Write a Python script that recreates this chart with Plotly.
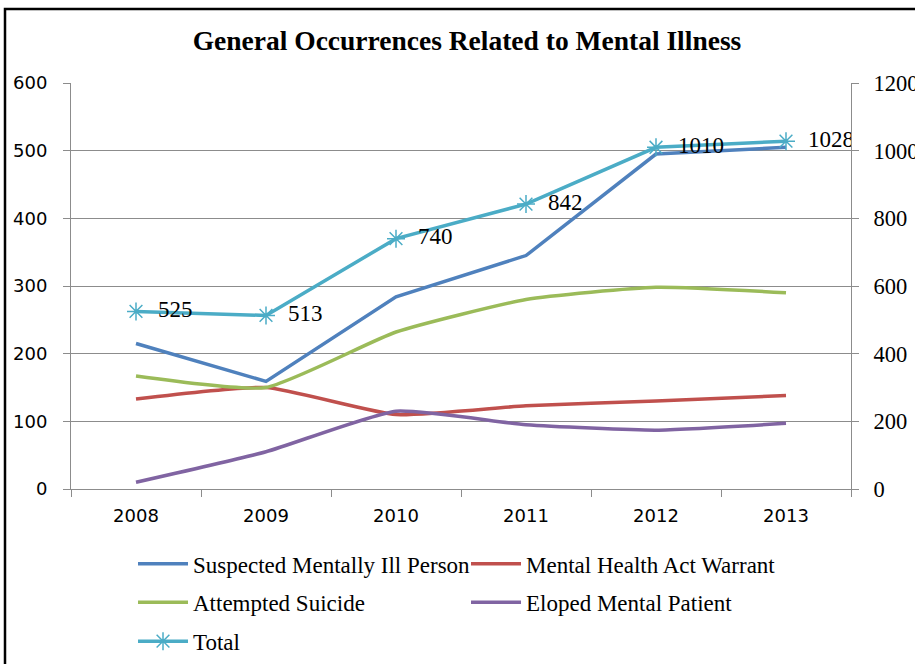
import plotly.graph_objects as go

years = ["2008", "2009", "2010", "2011", "2012", "2013"]
suspected = [215, 159, 284, 345, 495, 505]
warrant = [133, 150, 110, 123, 130, 138]
suicide = [167, 150, 232, 280, 298, 290]
eloped = [10, 55, 115, 95, 87, 97]
total = [525, 513, 740, 842, 1010, 1028]
left_ticks = [0, 100, 200, 300, 400, 500, 600]
right_ticks = [0, 200, 400, 600, 800, 1000, 1200]

SERIF = "Liberation Serif, Times New Roman, serif"
SANS = "DejaVu Sans, Verdana, sans-serif"
GRID = "#8c8c8c"

fig = go.Figure()
fig.add_trace(go.Scatter(x=years, y=suspected, name="Suspected Mentally Ill Person",
                         mode="lines", line=dict(color="#4F81BD", width=3.5), legend="legend"))
fig.add_trace(go.Scatter(x=years, y=warrant, name="Mental Health Act Warrant",
                         mode="lines", line=dict(color="#C0504D", width=3.5, shape="spline", smoothing=0.5),
                         legend="legend"))
fig.add_trace(go.Scatter(x=years, y=suicide, name="Attempted Suicide",
                         mode="lines", line=dict(color="#9BBB59", width=3.5, shape="spline", smoothing=0.5),
                         legend="legend2"))
fig.add_trace(go.Scatter(x=years, y=eloped, name="Eloped Mental Patient",
                         mode="lines", line=dict(color="#8064A2", width=3.5, shape="spline", smoothing=0.5),
                         legend="legend2"))
fig.add_trace(go.Scatter(x=years, y=total, name="Total", yaxis="y2",
                         mode="lines+markers+text",
                         text=["\u00a0\u00a0" + str(v) for v in total],
                         textposition="middle right", textfont=dict(family=SERIF, size=23, color="black"),
                         line=dict(color="#4BACC6", width=3.5),
                         marker=dict(symbol="asterisk-open", size=15, color="#4BACC6",
                                     line=dict(color="#4BACC6", width=1.5)),
                         legend="legend3"))

leg_common = dict(orientation="h", xanchor="left", yanchor="middle", x=0.0795,
                  font=dict(family=SERIF, size=23, color="black"),
                  entrywidth=268, entrywidthmode="pixels", itemwidth=50,
                  bgcolor="rgba(0,0,0,0)")

fig.update_layout(
    width=915, height=664,
    margin=dict(l=71, r=64, t=83, b=175, autoexpand=False),
    paper_bgcolor="white", plot_bgcolor="white",
    title=dict(text="<b>General Occurrences Related to Mental Illness</b>",
               x=467 / 915, xref="container", xanchor="center",
               y=1 - 40 / 664, yref="container", yanchor="middle",
               font=dict(family=SERIF, size=27.5, color="black")),
    showlegend=True,
    legend=dict(y=-0.184, **leg_common),
    legend2=dict(y=-0.279, **leg_common),
    legend3=dict(y=-0.375, **leg_common),
    xaxis=dict(type="category", range=[-0.5, 5.5], tickson="boundaries",
               ticks="outside", ticklen=7, tickcolor=GRID, showline=True, linecolor=GRID,
               showgrid=False, ticklabelstandoff=10,
               tickfont=dict(family=SANS, size=18, color="black")),
    yaxis=dict(range=[0, 600], tickvals=left_ticks, ticks="outside", ticklen=7, tickcolor=GRID,
               showline=True, linecolor=GRID, showgrid=True, gridcolor=GRID, gridwidth=1,
               zeroline=False, ticklabelstandoff=12,
               tickfont=dict(family=SANS, size=18, color="black")),
    yaxis2=dict(range=[0, 1200], tickvals=right_ticks, overlaying="y", side="right",
                ticks="outside", ticklen=7, tickcolor=GRID, showline=True, linecolor=GRID,
                showgrid=False, zeroline=False, ticklabelstandoff=10,
                tickfont=dict(family=SERIF, size=22.5, color="black")),
    shapes=[dict(type="rect", xref="paper", yref="paper",
                 x0=(5 - 71) / 780, x1=(925 - 71) / 780,
                 y0=(489 - 680) / 406, y1=(489 - 9) / 406,
                 line=dict(color="black", width=2.5), fillcolor="rgba(0,0,0,0)")],
)

fig.write_html("out.html")
